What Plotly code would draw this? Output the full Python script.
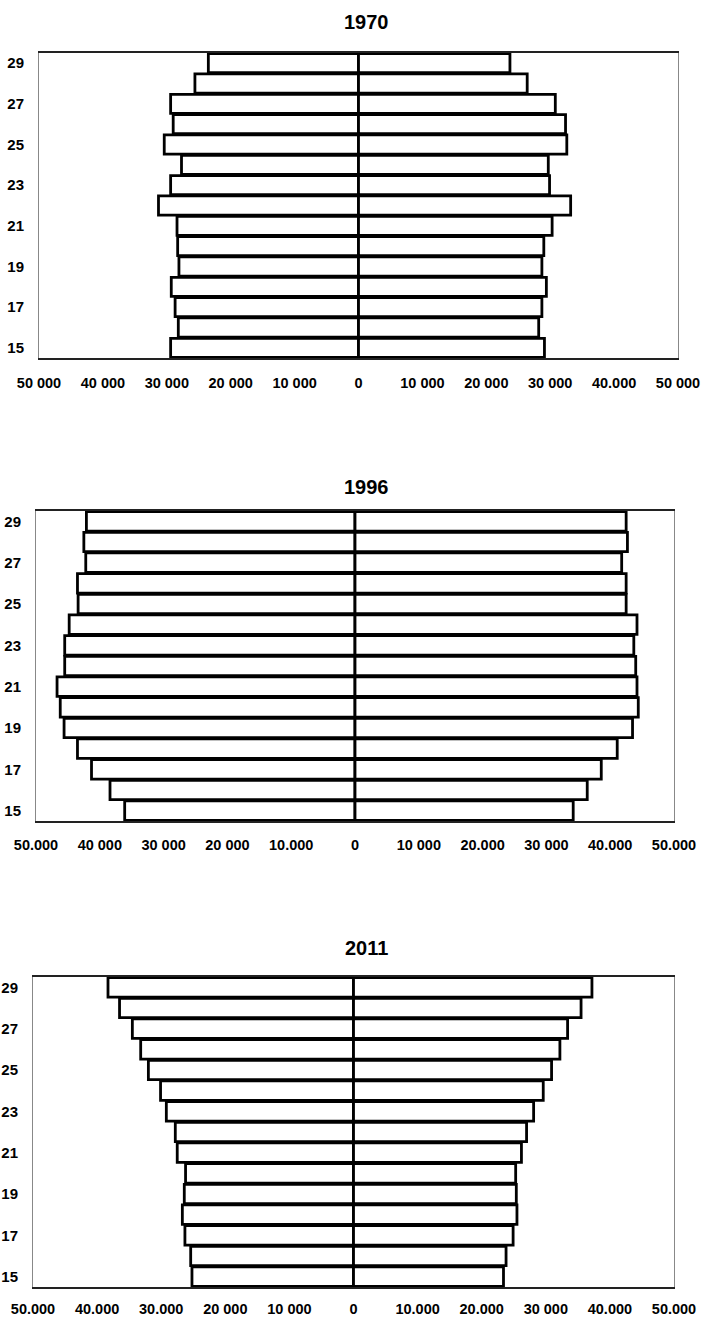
import plotly.graph_objects as go

# Ages (rows), bottom to top
ages = list(range(15, 30))

# Values in persons, ages 15..29
left_1970 = [29400, 28200, 28700, 29300, 28100, 28300, 28400, 31300, 29400, 27700, 30400, 29000, 29400, 25600, 23500]
right_1970 = [29100, 28200, 28700, 29400, 28700, 29000, 30300, 33200, 29900, 29700, 32600, 32400, 30800, 26400, 23700]

left_1996 = [36100, 38400, 41300, 43500, 45600, 46200, 46700, 45500, 45500, 44800, 43400, 43500, 42200, 42500, 42100]
right_1996 = [34200, 36400, 38600, 41100, 43500, 44400, 44200, 44000, 43700, 44200, 42500, 42500, 41800, 42700, 42500]

left_2011 = [25200, 25400, 26300, 26700, 26400, 26200, 27500, 27800, 29200, 30100, 32000, 33200, 34500, 36500, 38300]
right_2011 = [23400, 23800, 24900, 25500, 25400, 25300, 26200, 27000, 28100, 29600, 30900, 32200, 33400, 35500, 37200]

years = ["1970", "1996", "2011"]

x_tickvals = [-50000, -40000, -30000, -20000, -10000, 0, 10000, 20000, 30000, 40000, 50000]
x_ticktext_1970 = ["50 000", "40 000", "30 000", "20 000", "10 000", "0", "10 000", "20 000", "30 000", "40.000", "50 000"]
x_ticktext_1996 = ["50.000", "40 000", "30 000", "20 000", "10.000", "0", "10 000", "20.000", "30 000", "40.000", "50.000"]
x_ticktext_2011 = ["50.000", "40.000", "30.000", "20 000", "10 000", "0", "10.000", "20.000", "30 000", "40.000", "50.000"]
y_tickvals = [15, 17, 19, 21, 23, 25, 27, 29]

W, H = 704, 1318
FONT = "Liberation Sans, Arial, sans-serif"

panels = [
    dict(left=left_1970, right=right_1970, ticktext=x_ticktext_1970, year=years[0],
         px_x=(39, 678), px_y=(53, 358), title_y=22, standoff=11),
    dict(left=left_1996, right=right_1996, ticktext=x_ticktext_1996, year=years[1],
         px_x=(36, 674), px_y=(511, 821), title_y=487, standoff=10),
    dict(left=left_2011, right=right_2011, ticktext=x_ticktext_2011, year=years[2],
         px_x=(33, 674), px_y=(977, 1287), title_y=948, standoff=8),
]

fig = go.Figure()
layout = dict(
    width=W, height=H,
    margin=dict(l=0, r=0, t=0, b=0),
    paper_bgcolor="white", plot_bgcolor="white",
    showlegend=False,
    barmode="overlay",
    bargap=0.06,
    font=dict(family=FONT, size=14, color="black"),
    annotations=[],
)

bar_style = dict(color="white", line=dict(color="black", width=2.8))

for i, p in enumerate(panels, start=1):
    xa = "x" if i == 1 else f"x{i}"
    ya = "y" if i == 1 else f"y{i}"
    fig.add_trace(go.Bar(x=[-v for v in p["left"]], y=ages, orientation="h",
                         marker=bar_style, xaxis=xa, yaxis=ya, name=p["year"] + " left"))
    fig.add_trace(go.Bar(x=p["right"], y=ages, orientation="h",
                         marker=bar_style, xaxis=xa, yaxis=ya, name=p["year"] + " right"))
    xkey = "xaxis" if i == 1 else f"xaxis{i}"
    ykey = "yaxis" if i == 1 else f"yaxis{i}"
    x0, x1 = p["px_x"]
    yt, yb = p["px_y"]
    layout[xkey] = dict(
        domain=[x0 / W, x1 / W], anchor=ya, range=[-50000, 50000],
        tickvals=x_tickvals, ticktext=p["ticktext"],
        tickfont=dict(family=FONT, size=14.5, color="black", weight="bold"),
        showgrid=False, zeroline=True, zerolinecolor="black", zerolinewidth=2.8,
        showline=True, linecolor="#222", linewidth=2, mirror=True,
        ticks="", ticklabelstandoff=p["standoff"], automargin=False, fixedrange=True,
    )
    layout[ykey] = dict(
        domain=[1 - yb / H, 1 - yt / H], anchor=xa, range=[14.5, 29.5],
        tickvals=y_tickvals,
        tickfont=dict(family=FONT, size=15, color="black", weight="bold"),
        showgrid=False, zeroline=False,
        showline=True, linecolor="#888", linewidth=1, mirror=True,
        ticks="", ticklabelstandoff=11, automargin=False, fixedrange=True,
    )
    layout["annotations"].append(dict(
        text=p["year"], xref="paper", yref="paper", x=366 / W, y=1 - p["title_y"] / H,
        xanchor="center", yanchor="middle", showarrow=False,
        font=dict(family=FONT, size=20, color="black", weight="bold"),
    ))

fig.update_layout(**layout)
fig.write_html("out.html", config={"displayModeBar": False},
               post_script="document.body.style.margin='0';")
